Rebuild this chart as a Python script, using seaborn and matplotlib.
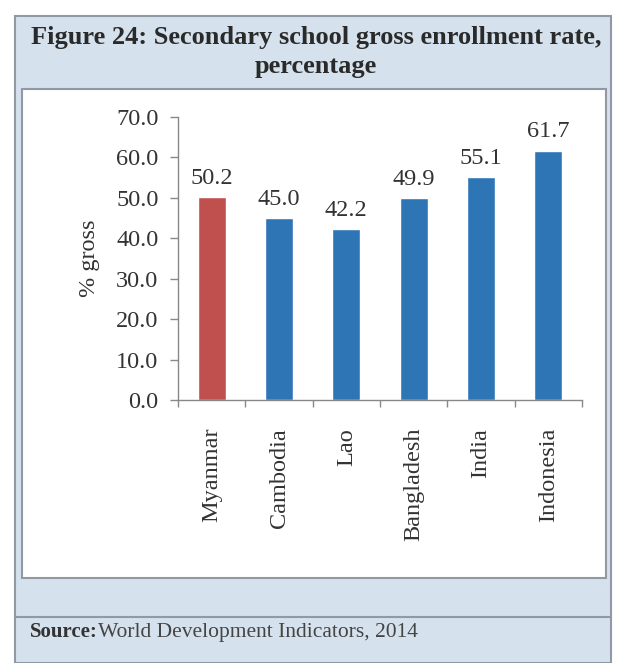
import matplotlib
matplotlib.use("Agg")
import matplotlib.pyplot as plt
import seaborn as sns
import pandas as pd
from matplotlib.patches import Rectangle

countries = ["Myanmar", "Cambodia", "Lao", "Bangladesh", "India", "Indonesia"]
values = [50.2, 45.0, 42.2, 49.9, 55.1, 61.7]
colors = ["#c0504d", "#2e75b6", "#2e75b6", "#2e75b6", "#2e75b6", "#2e75b6"]
yticks = [0, 10, 20, 30, 40, 50, 60, 70]
title = "Figure 24: Secondary school gross enrollment rate,\npercentage"
source_bold = "Source:"
source_rest = "World Development Indicators, 2014"

sns.set_style("white")
plt.rcParams["font.family"] = ["Liberation Serif", "DejaVu Serif"]

W, H = 617, 663
fig = plt.figure(figsize=(W / 100, H / 100), dpi=100)
fig.patch.set_facecolor("white")

def box(x0, y0, x1, y1, fc, ec="#8f9aa5", lw=1.5):
    fig.patches.append(Rectangle((x0 / W, 1 - y1 / H), (x1 - x0) / W, (y1 - y0) / H,
                                 transform=fig.transFigure, facecolor=fc,
                                 edgecolor=ec, linewidth=lw, zorder=-2))

box(15, 16, 611, 663, "#d5e2ee", ec="#8f9aa5")
box(22, 89, 606, 578, "white", ec="#8f9aa5")
fig.add_artist(plt.Line2D([15 / W, 611 / W], [1 - 617 / H, 1 - 617 / H],
                          transform=fig.transFigure, color="#8f9aa5", lw=1.5))

fig.text(316 / W, 1 - 52 / H, title, ha="center", va="center", fontsize=19,
         fontweight="bold", color="#2a2a2a", linespacing=1.3)
t = fig.text(30 / W, 1 - 632 / H, source_bold, ha="left", va="center", fontsize=15,
             fontweight="bold", color="#333333")
fig.canvas.draw()
bb = t.get_window_extent()
fig.text(bb.x1 / W, 1 - 632 / H, source_rest, ha="left", va="center", fontsize=15.5,
         color="#444444")

ax = fig.add_axes([178 / W, 1 - 400 / H, (582 - 178) / W, (400 - 117) / H])
ax.set_facecolor("none")
df = pd.DataFrame({"country": countries, "value": values})
sns.barplot(data=df, x="country", y="value", hue="country", palette=colors,
            legend=False, width=0.42, ax=ax, saturation=1)

fs = 17.5
for i, v in enumerate(values):
    ax.text(i, v + 2.0, f"{v:.1f}", ha="center", va="bottom", fontsize=fs, color="#333333")

ax.set_ylim(0, 70)
ax.set_xlim(-0.5, len(countries) - 0.5)
ax.set_yticks(yticks)
ax.set_yticklabels([f"{y:.1f}" for y in yticks], fontsize=fs, color="#333333")
ax.set_xticks(range(len(countries)))
ax.set_xticklabels(countries, rotation=90, fontsize=fs, color="#333333")
ax.tick_params(axis="x", length=0, pad=20)
ax.tick_params(axis="y", length=6, width=1, color="#888888", direction="out", pad=8, left=True)
ax.set_xticks([i - 0.5 for i in range(len(countries) + 1)], minor=True)
ax.tick_params(axis="x", which="minor", length=5, width=1, color="#888888", direction="out", bottom=True)
ax.set_xlabel("")
ax.set_ylabel("% gross", fontsize=fs, color="#333333", labelpad=12)
for s in ["top", "right"]:
    ax.spines[s].set_visible(False)
for s in ["left", "bottom"]:
    ax.spines[s].set_color("#888888")
    ax.spines[s].set_linewidth(1)

fig.savefig("out.png", dpi=100)
